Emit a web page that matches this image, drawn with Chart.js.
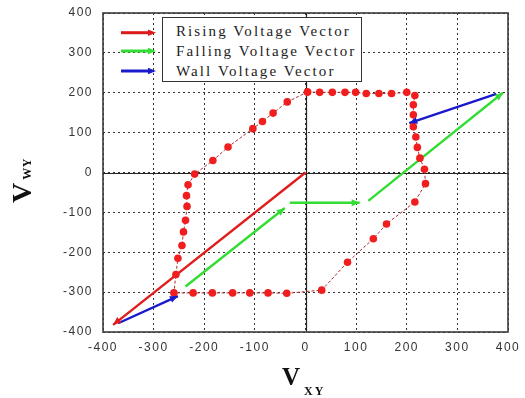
<!DOCTYPE html>
<html>
<head>
<meta charset="utf-8">
<script src="https://cdn.jsdelivr.net/npm/chart.js@4.4.1/dist/chart.umd.min.js"></script>
<style>
  html,body{margin:0;padding:0;background:#fff;}
  #wrap{position:relative;width:525px;height:398px;overflow:hidden;}
  #c{position:absolute;left:0;top:0;}
  #legendBox{position:absolute;left:162px;top:17px;width:198px;height:63px;border:1px solid #333;background:#fff;}
  .lg{position:absolute;left:13px;font:15px "Liberation Serif","Times New Roman",serif;line-height:15px;letter-spacing:2.1px;color:#222;white-space:nowrap;}
  #ytitle{position:absolute;left:8px;top:203px;transform:rotate(-90deg);transform-origin:0 0;font:bold 28px "Liberation Serif","Times New Roman",serif;line-height:28px;color:#111;white-space:nowrap;}
  #ytitle span{font-size:12px;margin-left:3px;letter-spacing:0.5px;}
  #xtitle{position:absolute;left:282px;top:364px;font:bold 25px "Liberation Serif","Times New Roman",serif;line-height:25px;color:#111;white-space:nowrap;}
  #xtitle span{font-size:12px;margin-left:4px;letter-spacing:2px;position:relative;top:10px;}
  #lgsvg{position:absolute;left:0;top:0;}
</style>
</head>
<body>
<div id="wrap">
  <canvas id="c" width="525" height="398"></canvas>
  <svg id="lgsvg" width="525" height="398">
    <line x1="121" y1="32.7" x2="150" y2="32.7" stroke="#dd1a1a" stroke-width="3"/>
    <polygon points="156,32.7 148,29.5 148,35.9" fill="#dd1a1a"/>
    <line x1="121" y1="51" x2="150" y2="51" stroke="#33dd33" stroke-width="3"/>
    <polygon points="156,51 148,47.8 148,54.2" fill="#33dd33"/>
    <line x1="121" y1="71" x2="150" y2="71" stroke="#1a1acc" stroke-width="3"/>
    <polygon points="156,71 148,67.8 148,74.2" fill="#1a1acc"/>
  </svg>
  <div id="legendBox">
    <div class="lg" style="top:6px">Rising Voltage Vector</div>
    <div class="lg" style="top:25.5px">Falling Voltage Vector</div>
    <div class="lg" style="top:45.5px">Wall Voltage Vector</div>
  </div>
  <div id="ytitle">V<span>WY</span></div>
  <div id="xtitle">V<span>XY</span></div>
</div>
<script>
// ---- data ----
const axisTicks = [-400, -300, -200, -100, 0, 100, 200, 300, 400];

// dotted hysteresis loop (red dots)
const loopX = [4, 28, 53, 78, 99, 120, 145, 170, 200, 216, 213, 213, 213, 218, 221, 226, 235, 237, 216, 160, 134, 83, 32, -37, -74, -110, -144, -184, -222, -260, -256, -252, -244, -241, -237, -234, -235, -232, -219, -183, -153, -104, -85, -64, -36, 4];
const loopY = [202, 201, 201, 201, 201, 198, 198, 198, 201, 193, 170, 145, 115, 89, 63, 36, 8, -28, -74, -129, -166, -225, -295, -303, -302, -302, -302, -302, -302, -302, -256, -215, -183, -149, -120, -85, -58, -31, -4, 30, 64, 110, 128, 149, 177, 202];

// rising voltage vector (red)
const risingX = [0, -380];
const risingY = [0, -382];

// falling voltage vector (green), null separates segments
const fallingX = [-237, -41, null, -31, 107, null, 124, 390];
const fallingY = [-286, -89, null, -76, -76, null, -71, 200];

// wall voltage vector (blue)
const wallX = [377, 205, null, -370, -252];
const wallY = [197, 124, null, -378, -310];

function pts(xs, ys) { return xs.map((x, i) => ({ x: x, y: ys[i] })); }
function arrowIdx(xs) { const r = []; xs.forEach((x, i) => { if (x !== null && i > 0 && xs[i - 1] !== null) r.push(i); }); return r; }

const arrowPlugin = {
  id: 'arrows',
  afterDatasetsDraw(chart) {
    const ctx = chart.ctx;
    chart.data.datasets.forEach((ds, di) => {
      if (!ds.arrowAt) return;
      const meta = chart.getDatasetMeta(di);
      ds.arrowAt.forEach(i => {
        const p1 = meta.data[i - 1], p2 = meta.data[i];
        const a = Math.atan2(p2.y - p1.y, p2.x - p1.x);
        const L = 8, W = 3.5;
        ctx.save();
        ctx.fillStyle = ds.borderColor;
        ctx.beginPath();
        ctx.moveTo(p2.x, p2.y);
        ctx.lineTo(p2.x - L * Math.cos(a) + W * Math.sin(a), p2.y - L * Math.sin(a) - W * Math.cos(a));
        ctx.lineTo(p2.x - L * Math.cos(a) - W * Math.sin(a), p2.y - L * Math.sin(a) + W * Math.cos(a));
        ctx.closePath();
        ctx.fill();
        ctx.restore();
      });
    });
  }
};

const framePlugin = {
  id: 'frame',
  beforeDraw(chart) { chart.ctx.letterSpacing = '1.5px'; },
  beforeDatasetsDraw(chart) {
    const ctx = chart.ctx, a = chart.chartArea;
    const xs = chart.scales.x, ys = chart.scales.y;
    ctx.save();
    ctx.letterSpacing = '0px';
    ctx.strokeStyle = '#222';
    ctx.lineWidth = 1.2;
    ctx.beginPath();
    const x0 = Math.round(xs.getPixelForValue(0)) + 0.5;
    const y0 = Math.round(ys.getPixelForValue(0)) + 0.5;
    ctx.moveTo(x0, a.top); ctx.lineTo(x0, a.bottom);
    ctx.moveTo(a.left, y0); ctx.lineTo(a.right, y0);
    ctx.stroke();
    ctx.strokeStyle = '#3a3a3a';
    ctx.lineWidth = 1.6;
    ctx.strokeRect(a.left, a.top, a.right - a.left, a.bottom - a.top);
    ctx.restore();
  },
  afterDraw(chart) { chart.ctx.letterSpacing = '0px'; }
};

const tickFont = { family: '"Liberation Sans", Arial, sans-serif', size: 12 };
function noPad(s) { s.paddingTop = 0; s.paddingBottom = 0; s.paddingLeft = 0; s.paddingRight = 0; }

new Chart(document.getElementById('c'), {
  type: 'scatter',
  data: {
    datasets: [
      {
        data: pts(loopX, loopY), showLine: true,
        borderColor: '#a83030', borderWidth: 1, borderDash: [3, 2],
        pointRadius: 3.8, pointBackgroundColor: '#f01e1e', pointBorderColor: '#f01e1e', pointBorderWidth: 0
      },
      {
        data: pts(risingX, risingY), showLine: true, borderColor: '#e01c1c', borderWidth: 2.4,
        pointRadius: 0, arrowAt: arrowIdx(risingX)
      },
      {
        data: pts(fallingX, fallingY), showLine: true, spanGaps: false, borderColor: '#33dd33', borderWidth: 2.4,
        pointRadius: 0, arrowAt: arrowIdx(fallingX)
      },
      {
        data: pts(wallX, wallY), showLine: true, spanGaps: false, borderColor: '#1a1acc', borderWidth: 2.4,
        pointRadius: 0, arrowAt: arrowIdx(wallX)
      }
    ]
  },
  options: {
    responsive: false, animation: false, devicePixelRatio: 1,
    layout: { padding: { left: 0, right: 17, top: 13, bottom: 0 } },
    plugins: { legend: { display: false }, tooltip: { enabled: false } },
    scales: {
      x: {
        type: 'linear', min: -400, max: 400,
        afterFit(s) { s.height = 66; noPad(s); },
        afterBuildTicks(s) { s.ticks = axisTicks.map(v => ({ value: v })); },
        ticks: { padding: 8, color: '#333', font: tickFont, maxRotation: 0 },
        grid: { color: '#333', lineWidth: 1, drawTicks: false },
        border: { display: false, dash: [2, 3] }
      },
      y: {
        type: 'linear', min: -400, max: 400,
        afterFit(s) { s.width = 103; noPad(s); },
        afterBuildTicks(s) { s.ticks = axisTicks.map(v => ({ value: v })); },
        ticks: { padding: 10, color: '#333', font: tickFont },
        grid: { color: '#333', lineWidth: 1, drawTicks: false },
        border: { display: false, dash: [2, 3] }
      }
    }
  },
  plugins: [framePlugin, arrowPlugin]
});
</script>
</body>
</html>
